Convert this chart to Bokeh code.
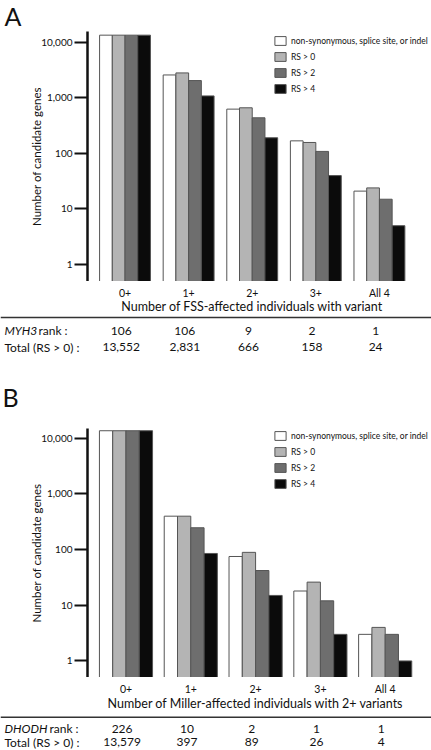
from bokeh.plotting import figure
from bokeh.models import (Range1d, FixedTicker, NumeralTickFormatter, ColumnDataSource,
                          Span, Legend, LegendItem)
from bokeh.layouts import column
from bokeh.embed import file_html
from bokeh.resources import INLINE
from bokeh.core.properties import value
from bokeh.transform import dodge

FONT = "Lato"
INK = "#111111"

# ---------------- data ----------------
groups = ["0+", "1+", "2+", "3+", "All 4"]
series_labels = ["non-synonymous, splice site, or indel", "RS > 0", "RS > 2", "RS > 4"]
series_colors = ["#ffffff", "#b4b4b4", "#6e6e6e", "#0b0b0b"]

# Panel A
a_nonsyn = [13552, 2600, 630, 169, 21]
a_rs0 = [13552, 2831, 666, 158, 24]
a_rs2 = [13552, 2060, 440, 109, 15]
a_rs4 = [13552, 1090, 192, 40, 5]
a_gene = "MYH3"
a_rank = ["106", "106", "9", "2", "1"]
a_total = ["13,552", "2,831", "666", "158", "24"]
a_xlabel = "Number of FSS-affected individuals with variant"

# Panel B
b_nonsyn = [13579, 397, 75, 18, 3]
b_rs0 = [13579, 397, 89, 26, 4]
b_rs2 = [13579, 246, 42, 12, 3]
b_rs4 = [13579, 85, 15, 3, 1]
b_gene = "DHODH"
b_rank = ["226", "10", "2", "1", "1"]
b_total = ["13,579", "397", "89", "26", "4"]
b_xlabel = "Number of Miller-affected individuals with 2+ variants"

y_ticks = [1, 10, 100, 1000, 10000]
y_label = "Number of candidate genes"
total_label = "Total (RS > 0) :"
panel_letters = ["A", "B"]

W = 431
LEFT = 87
RIGHT = 1


def x_extent(x_lo, ppu):
    return x_lo, x_lo + (W - LEFT - RIGHT) / ppu


def strip(h, x_lo, ppu):
    """A full-width figure whose y coordinate is pixels from its top."""
    x0, x1 = x_extent(x_lo, ppu)
    t = figure(width=W, height=h,
               x_range=Range1d(x0 - LEFT / ppu, x1 + RIGHT / ppu),
               y_range=Range1d(h, 0), x_axis_type=None, y_axis_type=None,
               toolbar_location=None, output_backend="svg",
               min_border_left=0, min_border_right=0, min_border_top=0,
               min_border_bottom=0, frame_align=False)
    t.outline_line_color = None
    return t


def letter(t, ch, px, mid_y, ppu):
    t.text(x=[t.x_range.start + px / ppu], y=[mid_y], text=[ch],
           text_font=value(FONT), text_font_size="25px", text_color=INK,
           text_align="left", text_baseline="middle")


def bars_panel(series_vals, fig_h, b_top, y_lo, y_hi, x_lo, ppu, bar_w, legend_xy):
    x0, x1 = x_extent(x_lo, ppu)
    p = figure(width=W, height=fig_h, y_axis_type="log", x_axis_location=None,
               x_range=Range1d(x0, x1), y_range=Range1d(y_lo, y_hi),
               toolbar_location=None, output_backend="svg",
               min_border_left=LEFT, min_border_right=RIGHT,
               min_border_top=b_top, min_border_bottom=0, frame_align=False)
    p.outline_line_color = None
    p.grid.visible = False

    xs = list(range(len(groups)))
    data = dict(x=xs)
    for k, v in enumerate(series_vals):
        data[f"s{k}"] = v
    src = ColumnDataSource(data)
    items = []
    for k in range(len(series_vals)):
        off = (k - 1.5) * bar_w
        r = p.vbar(x=dodge("x", off, range=p.x_range), top=f"s{k}", bottom=y_lo,
                   width=bar_w, source=src, fill_color=series_colors[k],
                   line_color="#555555", line_width=1)
        items.append(LegendItem(label=series_labels[k], renderers=[r]))

    leg = Legend(items=items, location=legend_xy, orientation="vertical")
    leg.label_text_font = FONT
    leg.label_text_font_size = "8.5px"
    leg.label_text_color = INK
    leg.glyph_width = 14
    leg.glyph_height = 11
    leg.label_height = 11
    leg.label_standoff = 4
    leg.spacing = 5
    leg.padding = 0
    leg.margin = 0
    leg.border_line_color = None
    leg.background_fill_alpha = 0
    p.add_layout(leg)

    ya = p.yaxis[0]
    ya.ticker = FixedTicker(ticks=y_ticks)
    ya.formatter = NumeralTickFormatter(format="0,0")
    ya.axis_line_width = 2.5
    ya.axis_line_color = INK
    ya.major_tick_line_width = 2
    ya.major_tick_line_color = INK
    ya.major_tick_out = 13
    ya.major_tick_in = 0
    ya.minor_tick_line_color = None
    ya.minor_tick_out = 0
    ya.minor_tick_in = 0
    ya.major_label_standoff = 2
    ya.major_label_text_font = FONT
    ya.major_label_text_font_size = "10px"
    ya.major_label_text_color = INK
    ya.axis_label = y_label
    ya.axis_label_text_font = FONT
    ya.axis_label_text_font_size = "11.5px"
    ya.axis_label_text_font_style = "normal"
    ya.axis_label_text_color = INK
    ya.axis_label_standoff = -5
    return p


def table_panel(xlabel, gene, gene_px, ranks, totals, fig_h, tick_y, label_y, rule_y,
                row_y, x_lo, ppu):
    t = strip(fig_h, x_lo, ppu)
    t.add_layout(Span(location=rule_y, dimension="width", line_color="#333333",
                      line_width=1.5))
    base = dict(text_font=value(FONT), text_color=INK, text_baseline="middle")
    gx = list(range(len(groups)))
    t.text(x=gx, y=[tick_y] * len(gx), text=groups, text_align="center",
           text_font_size="10.5px", **base)
    t.text(x=[(gx[0] + gx[-1]) / 2], y=[label_y], text=[xlabel], text_align="center",
           text_font_size="12.5px", **base)
    tx = [i - 0.06 for i in gx]
    common = dict(text_font_size="12px", **base)
    t.text(x=tx, y=[row_y[0]] * len(tx), text=ranks, text_align="center", **common)
    t.text(x=tx, y=[row_y[1]] * len(tx), text=totals, text_align="center", **common)
    left = t.x_range.start
    t.text(x=[left + 4 / ppu], y=[row_y[0]], text=[gene], text_align="left",
           text_font_style="italic", **common)
    t.text(x=[left + gene_px / ppu], y=[row_y[0]], text=["rank :"],
           text_align="left", **common)
    t.text(x=[left + 4 / ppu], y=[row_y[1]], text=[total_label],
           text_align="left", **common)
    return t


A_X0, A_PPU = -0.59, 63.6
B_X0, B_PPU = -0.594, 64.8

headA = strip(30, A_X0, A_PPU)
letter(headA, panel_letters[0], 4, 15.2, A_PPU)

figA = bars_panel([a_nonsyn, a_rs0, a_rs2, a_rs4], 251, 1,
                  0.494, 15780, A_X0, A_PPU, 0.2, (186, 187))
tabA = table_panel(a_xlabel, a_gene, 38, a_rank, a_total, 131, 11.7, 25, 36,
                   (49, 65.7), A_X0, A_PPU)
letter(tabA, panel_letters[1], 2, 115.5, A_PPU)

figB = bars_panel([b_nonsyn, b_rs0, b_rs2, b_rs4], 265, 16,
                  0.504, 14900, B_X0, B_PPU, 0.205, (186, 188))
tabB = table_panel(b_xlabel, b_gene, 49, b_rank, b_total, 72, 11.3, 26.3, 39.7,
                   (51.0, 64.8), B_X0, B_PPU)

layout = column(headA, figA, tabA, figB, tabB)
open("out.html", "w").write(file_html(layout, INLINE))
